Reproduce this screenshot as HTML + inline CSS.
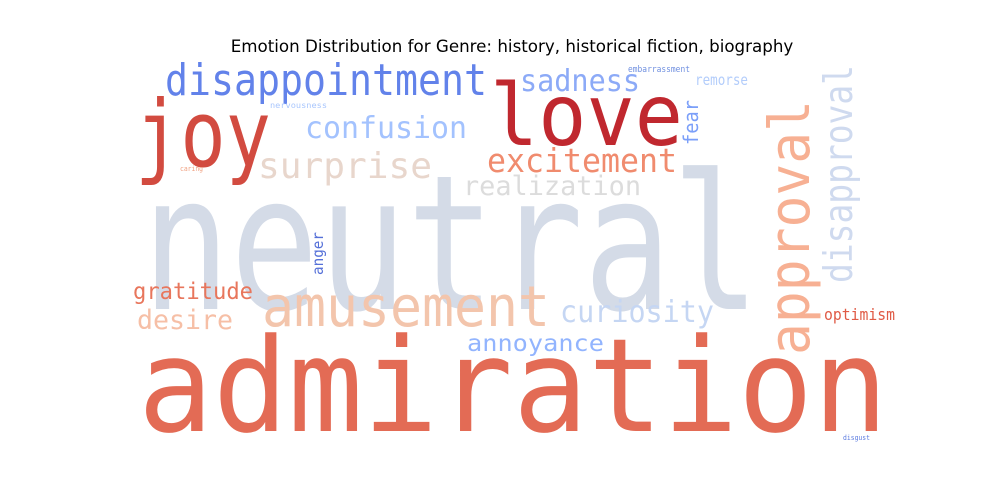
<!DOCTYPE html>
<html><head><meta charset="utf-8"><style>
html,body{margin:0;padding:0;background:#fff;width:1000px;height:500px;overflow:hidden}
svg text{font-family:"DejaVu Sans Mono","Liberation Mono",monospace}
</style></head><body>
<svg id="chart" width="1000" height="500" viewBox="0 0 1000 500" xmlns="http://www.w3.org/2000/svg">
<text x="512" y="52" text-anchor="middle" font-size="16.7" style="font-family:'DejaVu Sans','Liberation Sans',sans-serif" fill="#000">Emotion Distribution for Genre: history, historical fiction, biography</text>
<g id="words"></g>
</svg>
<script>
const words = ["neutral","admiration","joy","love","disappointment","approval","disapproval","amusement","sadness","confusion","surprise","excitement","realization","fear","curiosity","gratitude","desire","annoyance","optimism","anger","remorse","embarrassment","nervousness","caring","disgust"];
const fontSizes = [188,130,92,86,44,56,39,56,30,30,36,33,27,20,30,23,27,23,16,15,15,9,8,7,7];
const colors = ["#d4dbe7","#e36b55","#d24b40","#c0282f","#6282ea","#f7b093","#cfdaef","#f3c5ac","#8caaf7","#a3c2fe","#e8d6cc","#f08b6e","#dcdcdc","#7b9ff9","#c5d6f3","#e8765c","#f6bfa6","#92b4fe","#e05a45","#5570d8","#b3cdfb","#7090e0","#aac7fd","#f0a080","#5b7be0"];
const posX = [142,138,135,490,165,809,852,262,520,305,258,487,463,698,560,133,137,467,824,323,695,628,270,180,843];
const posY = [309,431,166,145,95,355,283,326,91,138,178,172,195,145,322,299,329,351,320,275,85,72,108,171,440];
const lengths = [618,750,136,193,322,255,218,288,120,162,174,190,178,45,154,120,96,137,71,43,53,62,57,23,27];
const vertical = [0,0,0,0,0,1,1,0,0,0,0,0,0,1,0,0,0,0,0,1,0,0,0,0,0];
const g = document.getElementById('words');
const NS = "http://www.w3.org/2000/svg";
words.forEach((w,i)=>{
  const t = document.createElementNS(NS,'text');
  
  
  t.setAttribute('x', posX[i]);
  t.setAttribute('y', posY[i]);
  t.setAttribute('font-size', fontSizes[i]);
  t.setAttribute('fill', colors[i]);
  t.setAttribute('textLength', lengths[i]);
  t.setAttribute('lengthAdjust', 'spacingAndGlyphs');
  if (vertical[i]) t.setAttribute('transform', 'rotate(-90 ' + posX[i] + ' ' + posY[i] + ')');
  t.textContent = w;
  g.appendChild(t);
});
</script>
</body></html>
